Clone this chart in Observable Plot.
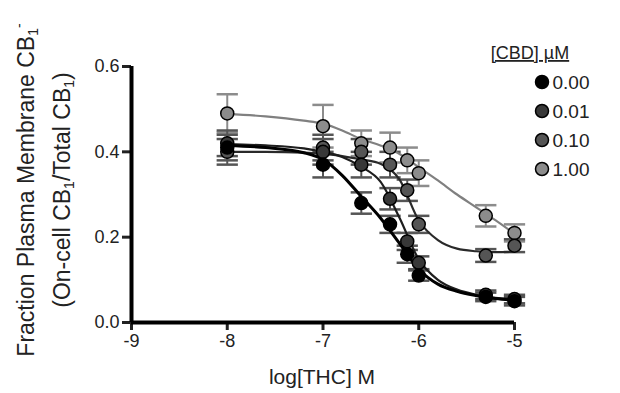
<!DOCTYPE html>
<html>
<head>
<meta charset="utf-8">
<script src="https://cdn.jsdelivr.net/npm/d3@7"></script>
<script src="https://cdn.jsdelivr.net/npm/@observablehq/plot@0.6"></script>
<style>
  html, body { margin: 0; padding: 0; background: #fff; }
  #chart { width: 620px; height: 393px; }
  svg { font-family: "Liberation Sans", Arial, sans-serif; }
</style>
</head>
<body>
<div id="chart"></div>
<script>
// ---- data ----
const logTHC = [-8, -7, -6.6, -6.3, -6.12, -6, -5.3, -5];

const cbdLabels = ["0.00", "0.01", "0.10", "1.00"];
const cbdFills  = ["#000000", "#383838", "#555555", "#8c8c8c"];
const cbdLines  = ["#000000", "#1e1e1e", "#2a2a2a", "#808080"];

const mean000 = [0.41, 0.37, 0.28, 0.23, 0.16, 0.11, 0.06, 0.05];
const err000  = [0.03, 0.03, 0.025, 0.02, 0.02, 0.012, 0.01, 0.01];
const mean001 = [0.42, 0.40, 0.37, 0.29, 0.19, 0.14, 0.065, 0.055];
const err001  = [0.03, 0.03, 0.03, 0.025, 0.02, 0.015, 0.01, 0.01];
const mean010 = [0.40, 0.41, 0.40, 0.37, 0.31, 0.23, 0.157, 0.18];
const err010  = [0.03, 0.03, 0.03, 0.03, 0.025, 0.02, 0.015, 0.015];
const mean100 = [0.49, 0.46, 0.42, 0.41, 0.38, 0.35, 0.25, 0.21];
const err100  = [0.045, 0.05, 0.03, 0.035, 0.03, 0.03, 0.025, 0.02];

// fitted curves
const fitX   = [-8, -7.6, -7.2, -7, -6.8, -6.6, -6.4, -6.2, -6, -5.8, -5.6, -5.4, -5.2, -5];
const fit000 = [0.415, 0.41, 0.398, 0.382, 0.345, 0.295, 0.245, 0.185, 0.125, 0.09, 0.073, 0.063, 0.056, 0.052];
const fit001 = [0.418, 0.415, 0.408, 0.40, 0.388, 0.365, 0.33, 0.245, 0.148, 0.10, 0.077, 0.065, 0.058, 0.055];
const fit010 = [0.40, 0.40, 0.398, 0.395, 0.39, 0.382, 0.372, 0.335, 0.239, 0.193, 0.173, 0.167, 0.165, 0.166];
const fit100 = [0.489, 0.483, 0.473, 0.466, 0.45, 0.43, 0.415, 0.395, 0.364, 0.333, 0.30, 0.27, 0.24, 0.208];

const xTicks = [-9, -8, -7, -6, -5];
const yTicks = [0, 0.2, 0.4, 0.6];

const xLabel = "log[THC] M";
const legendTitle = "[CBD] µM";

// ---- build tables ----
const means = [mean000, mean001, mean010, mean100];
const errs  = [err000, err001, err010, err100];
const fits  = [fit000, fit001, fit010, fit100];

const points = [];
means.forEach((m, s) => m.forEach((v, i) => points.push({s, x: logTHC[i], y: v, lo: v - errs[s][i], hi: v + errs[s][i]})));
const curve = [];
fits.forEach((f, s) => f.forEach((v, i) => curve.push({s, x: fitX[i], y: v})));

// draw lighter series first, black on top
const order = [3, 2, 1, 0];
const capSymbol = {
  draw(ctx, size) {
    const w = Math.sqrt(size);
    ctx.moveTo(-w, 0);
    ctx.lineTo(w, 0);
  }
};

const marks = [];
for (const s of order) {
  const pts = points.filter(d => d.s === s);
  const col = s === 3 ? "#8c8c8c" : "#555555";
  marks.push(Plot.ruleX(pts, {x: "x", y1: "lo", y2: "hi", stroke: col, strokeWidth: 2}));
  marks.push(Plot.dot(pts, {x: "x", y: "hi", symbol: capSymbol, r: 6, stroke: col, strokeWidth: 2.5}));
  marks.push(Plot.dot(pts, {x: "x", y: "lo", symbol: capSymbol, r: 6, stroke: col, strokeWidth: 2.5}));
}
for (const s of order) {
  marks.push(Plot.line(curve.filter(d => d.s === s), {x: "x", y: "y", curve: "monotone-x", stroke: cbdLines[s], strokeWidth: s === 0 ? 3 : 2.2}));
}
for (const s of order) {
  marks.push(Plot.dot(points.filter(d => d.s === s), {x: "x", y: "y", r: 6.5, fill: cbdFills[s], stroke: "#000", strokeWidth: 1.5}));
}

const chart = Plot.plot({
  width: 620,
  height: 393,
  marginLeft: 131,
  marginRight: 106,
  marginTop: 66,
  marginBottom: 71,
  style: {fontFamily: "Liberation Sans, Arial, sans-serif", background: "#fff", color: "#222"},
  x: {domain: [-9, -5]},
  y: {domain: [0, 0.6]},
  marks: [
    Plot.axisX({ticks: xTicks, tickSize: 8, tickPadding: 4, strokeWidth: 3, fontSize: 18, label: null, tickFormat: d => String(d)}),
    Plot.axisY({ticks: yTicks, tickSize: 9, tickPadding: 3, strokeWidth: 3, fontSize: 18, label: null, tickFormat: d3.format(".1f")}),
    ...marks,
    Plot.ruleY([0], {stroke: "#000", strokeWidth: 4}),
    Plot.ruleX([-9], {stroke: "#000", strokeWidth: 4})
  ]
});

document.getElementById("chart").appendChild(chart);

// ---- axis titles and legend (real text) ----
const svg = d3.select(chart);
const fam = "Liberation Sans, Arial, sans-serif";

svg.append("text")
  .attr("x", 322).attr("y", 384)
  .attr("text-anchor", "middle")
  .attr("font-size", 21).attr("fill", "#222").attr("font-family", fam)
  .text(xLabel);

function yLine(x, parts) {
  const t = svg.append("text")
    .attr("transform", `translate(${x},190) rotate(-90)`)
    .attr("text-anchor", "middle")
    .attr("font-size", 23).attr("fill", "#222").attr("font-family", fam);
  for (const [txt, kind] of parts) {
    const sp = t.append("tspan").text(txt);
    if (kind === "sub") sp.attr("font-size", 14).attr("baseline-shift", "-25%");
    if (kind === "sup") sp.attr("font-size", 14).attr("baseline-shift", "70%");
  }
}
yLine(34, [["Fraction Plasma Membrane CB"], ["1", "sub"], ["-", "sup"]]);
yLine(70, [["(On-cell CB"], ["1", "sub"], ["/Total CB"], ["1", "sub"], [")"]]);

svg.append("text")
  .attr("x", 530).attr("y", 59)
  .attr("font-size", 18).attr("fill", "#222").attr("font-family", fam)
  .style("text-decoration", "underline")
  .text(legendTitle);

cbdLabels.forEach((lab, s) => {
  const cy = 82 + s * 29;
  svg.append("circle").attr("cx", 542).attr("cy", cy).attr("r", 6.5)
    .attr("fill", cbdFills[s]).attr("stroke", "#000").attr("stroke-width", 1.5);
  svg.append("text").attr("x", 571).attr("y", cy + 7)
    .attr("font-size", 19).attr("fill", "#222").attr("font-family", fam)
    .text(lab);
});
</script>
</body>
</html>
